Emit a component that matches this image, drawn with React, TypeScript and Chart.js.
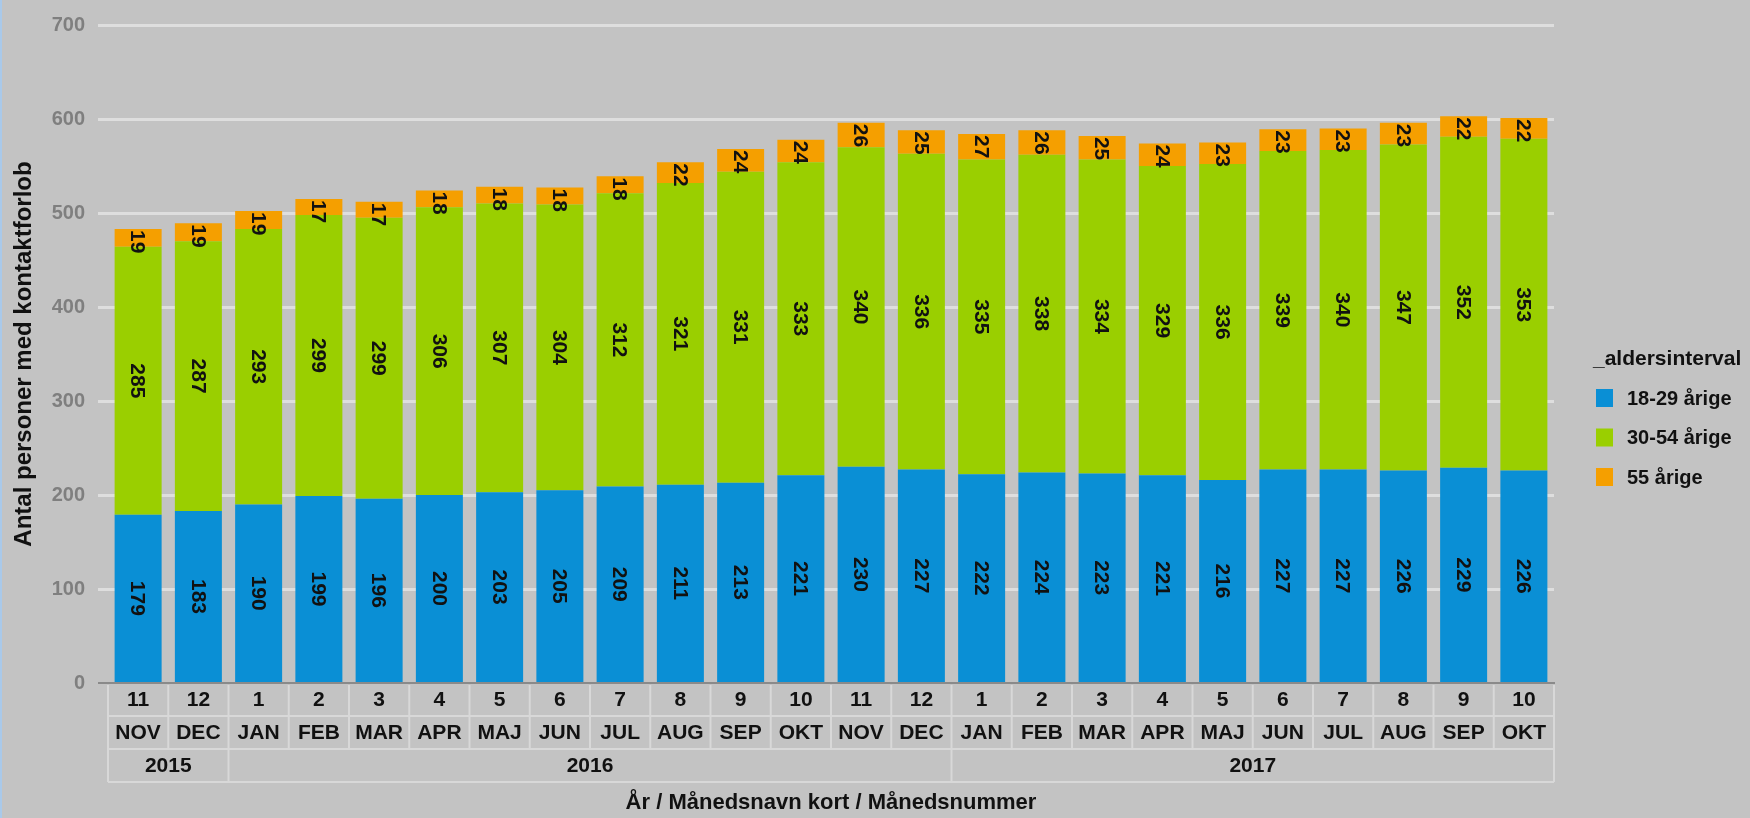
import React, { useEffect, useRef } from 'react';
import { Chart, registerables } from 'chart.js';

Chart.register(...registerables);

// ---- data ----
const monthNumbers = ['11', '12', '1', '2', '3', '4', '5', '6', '7', '8', '9', '10', '11', '12', '1', '2', '3', '4', '5', '6', '7', '8', '9', '10'];
const monthNames = ['NOV', 'DEC', 'JAN', 'FEB', 'MAR', 'APR', 'MAJ', 'JUN', 'JUL', 'AUG', 'SEP', 'OKT', 'NOV', 'DEC', 'JAN', 'FEB', 'MAR', 'APR', 'MAJ', 'JUN', 'JUL', 'AUG', 'SEP', 'OKT'];
const yearOfMonth = ['2015', '2015', '2016', '2016', '2016', '2016', '2016', '2016', '2016', '2016', '2016', '2016', '2016', '2016', '2017', '2017', '2017', '2017', '2017', '2017', '2017', '2017', '2017', '2017'];

const values18to29 = [179, 183, 190, 199, 196, 200, 203, 205, 209, 211, 213, 221, 230, 227, 222, 224, 223, 221, 216, 227, 227, 226, 229, 226];
const values30to54 = [285, 287, 293, 299, 299, 306, 307, 304, 312, 321, 331, 333, 340, 336, 335, 338, 334, 329, 336, 339, 340, 347, 352, 353];
const values55 = [19, 19, 19, 17, 17, 18, 18, 18, 18, 22, 24, 24, 26, 25, 27, 26, 25, 24, 23, 23, 23, 23, 22, 22];

const seriesLabels = ['18-29 årige', '30-54 årige', '55 årige'];
const seriesColors = ['#0a8fd5', '#9acf00', '#f59f00'];
const legendTitle = '_aldersinterval';
const yAxisTitle = 'Antal personer med kontaktforlob';
const xAxisTitle = 'År / Månedsnavn kort / Månedsnummer';
const yMax = 700;
const yStep = 100;

const FONT = '"Liberation Sans", Arial, Helvetica, sans-serif';

const barLabelsPlugin = {
  id: 'barLabels',
  afterDatasetsDraw(chart: any) {
    const ctx = chart.ctx;
    ctx.save();
    ctx.font = `bold 21px ${FONT}`;
    ctx.fillStyle = '#111111';
    chart.data.datasets.forEach((ds: any, di: number) => {
      const meta = chart.getDatasetMeta(di);
      meta.data.forEach((bar: any, i: number) => {
        const text = String(ds.data[i]);
        const { x, y, base } = bar.getProps(['x', 'y', 'base'], true);
        const w = ctx.measureText(text).width;
        const h = base - y;
        ctx.save();
        if (h >= w + 6) {
          ctx.translate(x, (y + base) / 2);
          ctx.rotate(Math.PI / 2);
          ctx.textAlign = 'center';
        } else {
          ctx.translate(x, y + 1);
          ctx.rotate(Math.PI / 2);
          ctx.textAlign = 'left';
        }
        ctx.textBaseline = 'middle';
        ctx.fillText(text, 0, 1);
        ctx.restore();
      });
    });
    ctx.restore();
  },
};

const xTablePlugin = {
  id: 'xTable',
  afterDraw(chart: any) {
    const ctx = chart.ctx;
    const xs = chart.scales.x;
    const n = monthNumbers.length;
    const cw = (xs.right - xs.left) / n;
    const top = chart.chartArea.bottom;
    const rowH = 33;
    const edge = (i: number) => xs.getPixelForValue(i) - cw / 2;
    ctx.save();
    ctx.strokeStyle = '#d8d8d8';
    ctx.lineWidth = 2;
    ctx.beginPath();
    for (let r = 1; r <= 3; r++) {
      ctx.moveTo(xs.left, top + rowH * r);
      ctx.lineTo(xs.right, top + rowH * r);
    }
    for (let i = 0; i <= n; i++) {
      const ex = i < n ? edge(i) : edge(n - 1) + cw;
      ctx.moveTo(ex, top + 2);
      ctx.lineTo(ex, top + rowH * 2);
    }
    const groups: { label: string; start: number; end: number }[] = [];
    yearOfMonth.forEach((yr, i) => {
      const g = groups[groups.length - 1];
      if (g && g.label === yr) g.end = i;
      else groups.push({ label: yr, start: i, end: i });
    });
    groups.forEach((g, gi) => {
      const lx = edge(g.start);
      ctx.moveTo(lx, top + rowH * 2);
      ctx.lineTo(lx, top + rowH * 3);
      if (gi === groups.length - 1) {
        const rx = edge(g.end) + cw;
        ctx.moveTo(rx, top + rowH * 2);
        ctx.lineTo(rx, top + rowH * 3);
      }
    });
    ctx.stroke();

    ctx.fillStyle = '#111111';
    ctx.font = `bold 21px ${FONT}`;
    ctx.textAlign = 'center';
    ctx.textBaseline = 'middle';
    for (let i = 0; i < n; i++) {
      const cx = xs.getPixelForValue(i);
      ctx.fillText(monthNumbers[i], cx, top + rowH * 0.5 + 1);
      ctx.fillText(monthNames[i], cx, top + rowH * 1.5 + 1);
    }
    groups.forEach((g) => {
      const cx = (edge(g.start) + edge(g.end) + cw) / 2;
      ctx.fillText(g.label, cx, top + rowH * 2.5 + 1);
    });
    ctx.restore();
  },
};

const legendPlugin = {
  id: 'customLegend',
  afterDraw(chart: any) {
    const ctx = chart.ctx;
    const x0 = chart.chartArea.right + 39;
    ctx.save();
    ctx.fillStyle = '#111111';
    ctx.textBaseline = 'middle';
    ctx.textAlign = 'left';
    ctx.font = `bold 21px ${FONT}`;
    ctx.fillText(legendTitle, x0, 359);
    ctx.font = `bold 20px ${FONT}`;
    chart.data.datasets.forEach((ds: any, i: number) => {
      const cy = 398 + i * 39.5;
      ctx.fillStyle = ds.backgroundColor;
      ctx.fillRect(x0 + 3, cy - 9, 17, 18);
      ctx.fillStyle = '#111111';
      ctx.fillText(ds.label, x0 + 34, cy + 1);
    });
    ctx.restore();
  },
};

export default function App() {
  const canvasRef = useRef<HTMLCanvasElement | null>(null);

  useEffect(() => {
    if (!canvasRef.current) return;
    Chart.defaults.font.family = FONT;
    const chart = new Chart(canvasRef.current, {
      type: 'bar',
      data: {
        labels: monthNames.map((m, i) => `${m} ${yearOfMonth[i]}`),
        datasets: [
          { label: seriesLabels[0], data: values18to29, backgroundColor: seriesColors[0] },
          { label: seriesLabels[1], data: values30to54, backgroundColor: seriesColors[1] },
          { label: seriesLabels[2], data: values55, backgroundColor: seriesColors[2] },
        ],
      },
      options: {
        animation: false,
        responsive: false,
        devicePixelRatio: 1,
        layout: { padding: { left: 0, top: 25, right: 196, bottom: 0 } },
        datasets: { bar: { barPercentage: 0.78, categoryPercentage: 1.0 } },
        plugins: {
          legend: { display: false },
          tooltip: { enabled: false },
        },
        scales: {
          x: {
            stacked: true,
            grid: { display: false },
            border: { display: true, color: '#8a8a8a', width: 2 },
            ticks: { display: false },
            title: {
              display: true,
              text: xAxisTitle,
              color: '#111111',
              font: { family: FONT, size: 22, weight: 'bold', lineHeight: 1.2 },
              padding: { top: 0, bottom: 2 },
            },
            afterFit: (axis: any) => {
              axis.height = 135;
            },
          },
          y: {
            stacked: true,
            min: 0,
            max: yMax,
            border: { display: false },
            grid: {
              color: (c: any) => (c.tick && c.tick.value === 0 ? '#8a8a8a' : '#dedede'),
              tickColor: (c: any) => (c.tick && c.tick.value === 0 ? '#8a8a8a' : '#dedede'),
              lineWidth: (c: any) => (c.tick && c.tick.value === 0 ? 2 : 3),
              tickLength: 10,
            },
            ticks: {
              stepSize: yStep,
              color: '#7f7f7f',
              padding: 13,
              font: { family: FONT, size: 20, weight: 'bold' },
            },
            title: {
              display: true,
              text: yAxisTitle,
              color: '#111111',
              font: { family: FONT, size: 24, weight: 'bold', lineHeight: 1.2 },
              padding: { top: 10, bottom: 0 },
            },
            afterFit: (axis: any) => {
              axis.width = 108;
            },
          },
        },
      },
      plugins: [barLabelsPlugin, xTablePlugin, legendPlugin],
    });
    return () => chart.destroy();
  }, []);

  return (
    <div style={{ position: 'fixed', left: 0, top: 0, width: 1750, height: 818, background: '#c3c3c3', overflow: 'hidden' }}>
      <canvas ref={canvasRef} width={1750} height={818} style={{ display: 'block', width: 1750, height: 818 }} />
      <div style={{ position: 'absolute', left: 0, top: 0, width: 2, height: 818, background: '#a9c9ea' }} />
    </div>
  );
}
